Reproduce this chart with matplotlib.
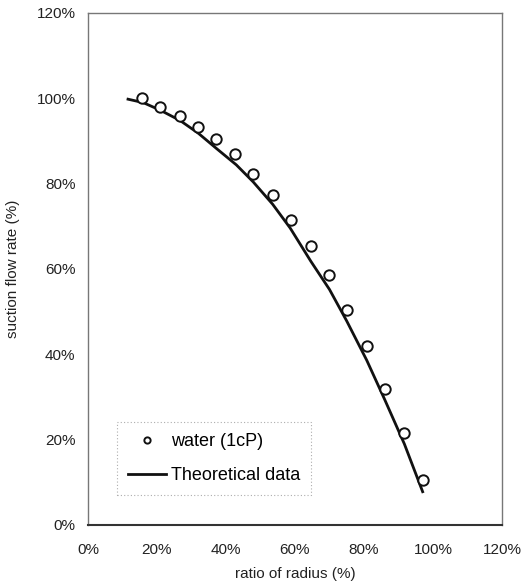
import matplotlib
matplotlib.use("Agg")
import matplotlib.pyplot as plt
from matplotlib.ticker import FuncFormatter

# measured data (water, 1cP)
exp_x = [15.7, 21.0, 26.6, 31.8, 37.0, 42.7, 47.9, 53.5, 58.8, 64.6, 69.8, 75.0, 80.8, 86.0, 91.7, 97.0]
exp_y = [100.0, 97.9, 95.9, 93.3, 90.5, 86.9, 82.3, 77.3, 71.6, 65.5, 58.5, 50.5, 42.0, 31.8, 21.5, 10.5]

# theoretical curve
th_x = [11.6, 16.0, 21.0, 26.7, 32.0, 37.3, 43.0, 47.9, 53.5, 58.6, 64.6, 70.0, 75.0, 80.8, 86.0, 91.7, 97.0]
th_y = [99.8, 99.0, 97.2, 94.8, 91.8, 88.2, 84.4, 80.4, 75.2, 69.6, 61.8, 55.2, 47.8, 38.6, 29.4, 19.0, 7.8]

x_ticks = [0, 20, 40, 60, 80, 100, 120]
y_ticks = [0, 20, 40, 60, 80, 100, 120]

plt.rcParams['font.family'] = ['Liberation Sans', 'DejaVu Sans']

fig = plt.figure(figsize=(5.28, 5.83), dpi=100)
ax = fig.add_axes([88/528, 1 - 525/583, (502-88)/528, (525-13)/583])

ax.plot(th_x, th_y, color='#111111', lw=2.0, label='Theoretical data', zorder=2)
ax.plot(exp_x, exp_y, linestyle='none', marker='o', ms=7.5, mfc='white', mec='#111111',
        mew=1.4, label='water (1cP)', zorder=3)

ax.set_xlim(0, 120)
ax.set_ylim(0, 120)
ax.set_xticks(x_ticks)
ax.set_yticks(y_ticks)
fmt = FuncFormatter(lambda v, p: f"{int(v)}%")
ax.xaxis.set_major_formatter(fmt)
ax.yaxis.set_major_formatter(fmt)
ax.tick_params(length=0, labelsize=11, colors='#222222')
ax.tick_params(axis='x', pad=13)
ax.tick_params(axis='y', pad=9)

for s in ['top', 'right', 'left']:
    ax.spines[s].set_color('#777777')
    ax.spines[s].set_linewidth(1.0)
ax.spines['bottom'].set_color('#333333')
ax.spines['bottom'].set_linewidth(1.5)

ax.set_xlabel('ratio of radius (%)', fontsize=11, color='#222222', labelpad=7)
ax.set_ylabel('suction flow rate (%)', fontsize=11, color='#222222', labelpad=12)

h, l = ax.get_legend_handles_labels()
leg = ax.legend(h[::-1], l[::-1], loc='lower left', bbox_to_anchor=(0.070, 0.058),
                fontsize=13, frameon=True, handlelength=2.1, handletextpad=0.3,
                borderpad=0.6, labelspacing=0.95, fancybox=False, markerscale=0.6,
                borderaxespad=0)
leg.get_frame().set_edgecolor('#999999')
leg.get_frame().set_linestyle((0, (1, 2)))
leg.get_frame().set_linewidth(0.8)

fig.savefig('out.png', dpi=100)
